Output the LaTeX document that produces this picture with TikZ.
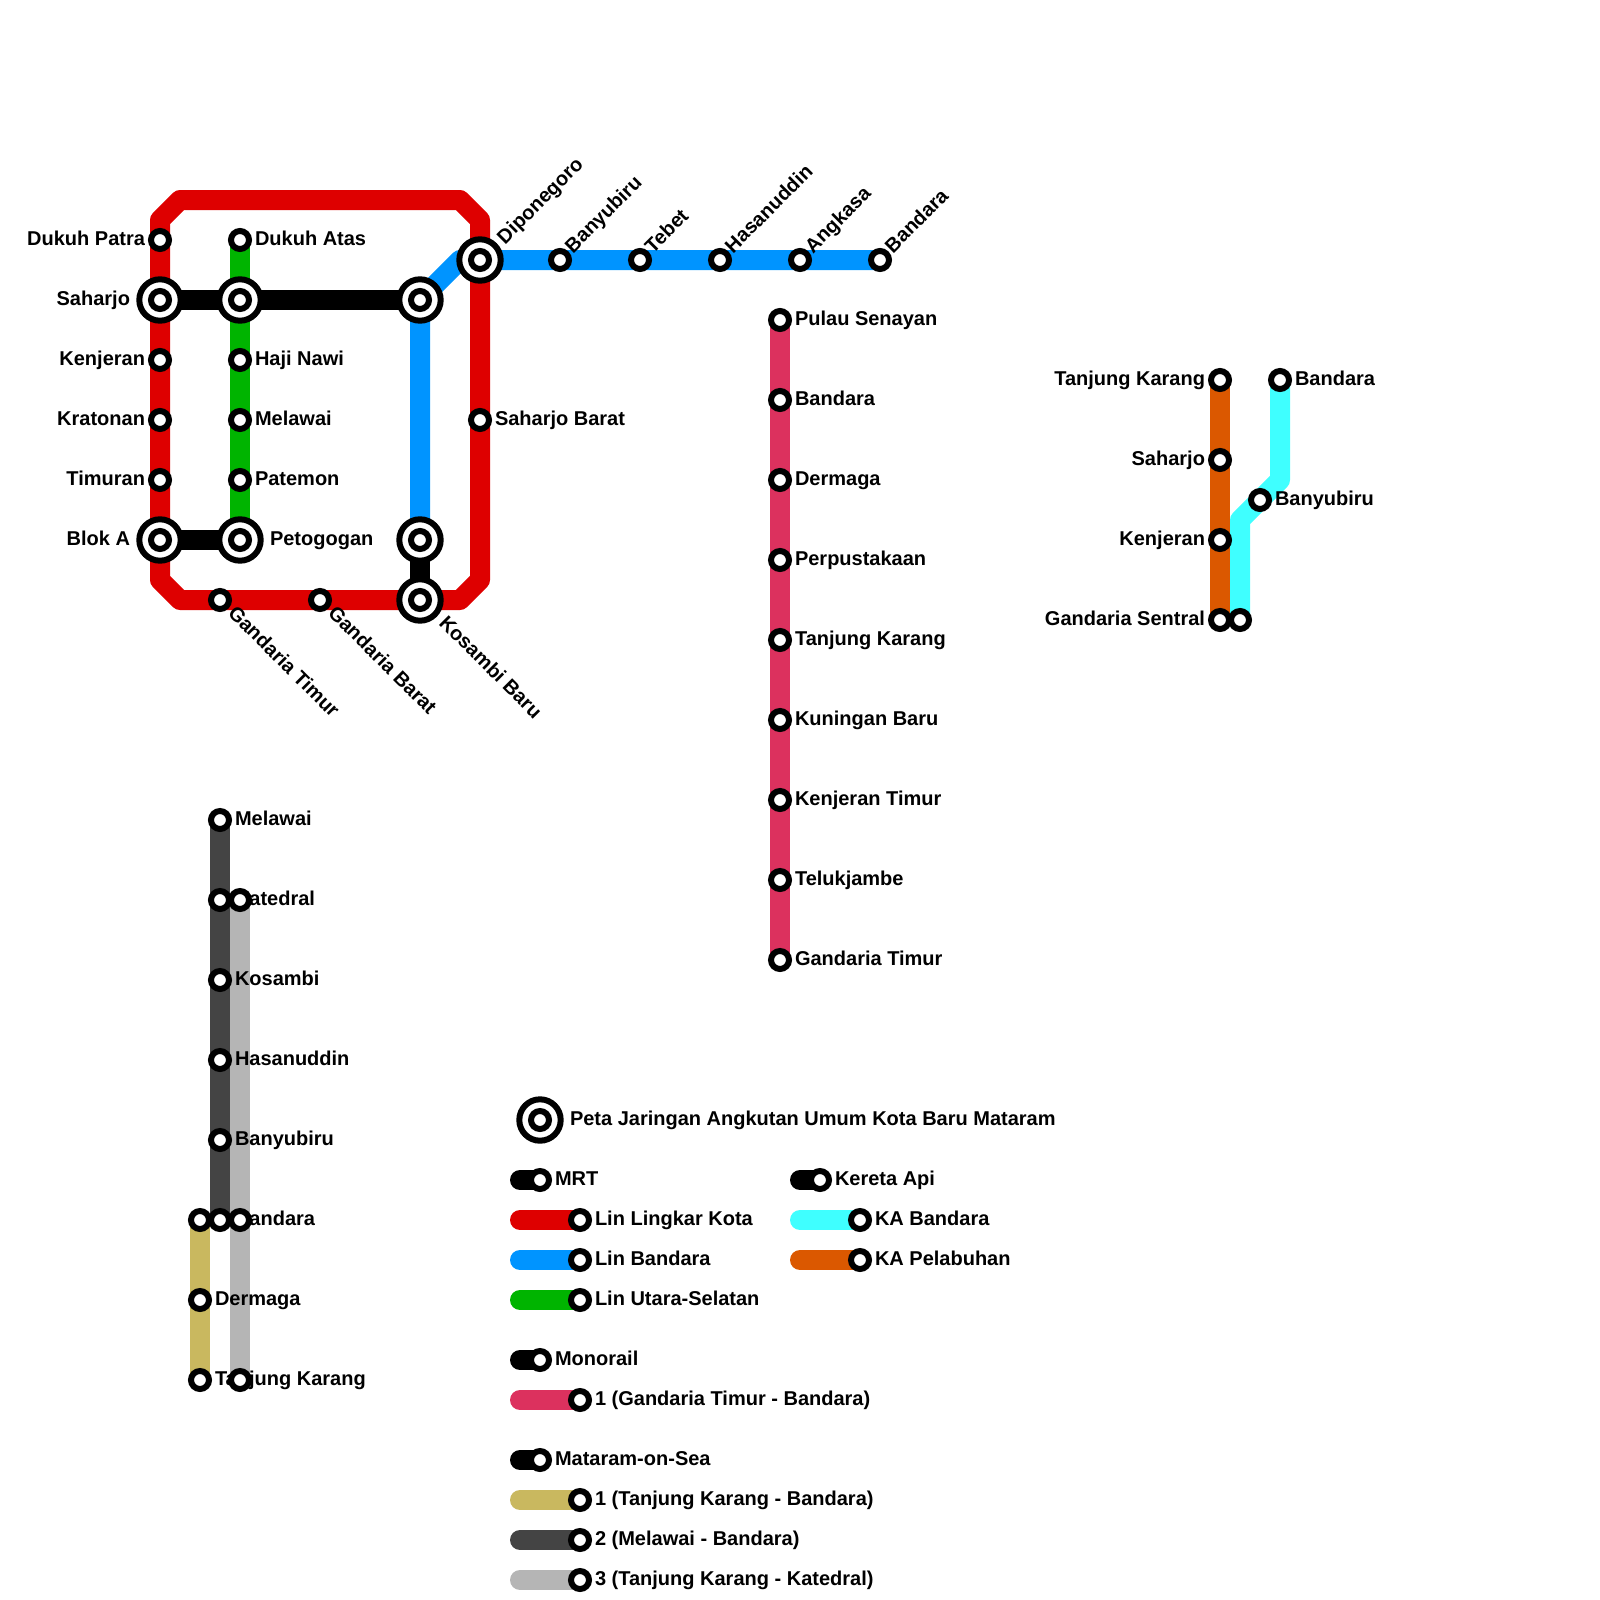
\documentclass[tikz,border=0pt]{standalone}
\usepackage{fontspec}
\setmainfont{Liberation Sans}[BoldFont={Liberation Sans Bold}]
\pgfdeclarelayer{lines}
\pgfdeclarelayer{labels}
\pgfsetlayers{lines,labels,main}
\definecolor{cred}{HTML}{DE0000}
\definecolor{cblue}{HTML}{0094FF}
\definecolor{cgreen}{HTML}{00B400}
\definecolor{cpink}{HTML}{DC315E}
\definecolor{colive}{HTML}{C9B85F}
\definecolor{cdark}{HTML}{444444}
\definecolor{clight}{HTML}{B5B5B5}
\definecolor{corange}{HTML}{DB5800}
\definecolor{ccyan}{HTML}{3FFFFF}
\tikzset{
  stn/.style={circle,draw=black,fill=white,line width=6pt,minimum size=18pt,inner sep=0pt,outer sep=0pt},
  ring/.style={circle,draw=black,fill=white,line width=6pt,minimum size=41.4pt,inner sep=0pt,outer sep=0pt},
  metro/.style={line width=20pt,line cap=round,line join=round},
  lbl/.style={inner sep=0pt,outer sep=0pt,font=\fontsize{20}{24}\selectfont\bfseries,text=black},
  lr/.style={lbl,anchor=base west},
  ll/.style={lbl,anchor=base east},
  lu/.style={lbl,anchor=base west,rotate=45},
  ld/.style={lbl,anchor=base west,rotate=-45},
}
\newcommand{\sst}[2]{\node[stn] (#1) at (#2) {};}
\newcommand{\bst}[2]{\node[ring] (#1) at (#2) {};\node[stn] (#1i) at (#1.center) {};}
\begin{document}
\begin{tikzpicture}[x=1pt,y=-1pt]
\useasboundingbox (0,0) rectangle (1600,1600);
% --- stations
\sst{dukuhpatra}{160,240}
\bst{saharjo}{160,300}
\sst{kenjeran}{160,360}
\sst{kratonan}{160,420}
\sst{timuran}{160,480}
\bst{bloka}{160,540}
\sst{dukuhatas}{240,240}
\bst{gtwo}{240,300}
\sst{hajinawi}{240,360}
\sst{melawai}{240,420}
\sst{patemon}{240,480}
\bst{petogogan}{240,540}
\bst{bone}{420,300}
\bst{btwo}{420,540}
\bst{kosambibaru}{420,600}
\bst{diponegoro}{480,260}
\sst{saharjobarat}{480,420}
\sst{gandariatimur}{220,600}
\sst{gandariabarat}{320,600}
\sst{banyubiru}{560,260}
\sst{tebet}{640,260}
\sst{hasanuddin}{720,260}
\sst{angkasa}{800,260}
\sst{bandara}{880,260}
% monorail
\sst{mfirst}{780,320}
\sst{mb}{780,400}
\sst{mc}{780,480}
\sst{md}{780,560}
\sst{me}{780,640}
\sst{mf}{780,720}
\sst{mg}{780,800}
\sst{mh}{780,880}
\sst{mlast}{780,960}
% sea lines
\sst{da}{220,820}
\sst{db}{220,900}
\sst{dc}{220,980}
\sst{dd}{220,1060}
\sst{de}{220,1140}
\sst{df}{220,1220}
\sst{oa}{200,1220}
\sst{ob}{200,1300}
\sst{oc}{200,1380}
\sst{ga}{240,900}
\sst{gb}{240,1220}
\sst{gc}{240,1380}
% rail
\sst{ra}{1220,380}
\sst{rb}{1220,460}
\sst{rc}{1220,540}
\sst{rd}{1220,620}
\sst{ca}{1280,380}
\sst{cb}{1260,500}
\sst{cc}{1240,620}
\coordinate (cbend1) at (1280,480);
\coordinate (cbend2) at (1240,520);
% legend
\bst{legbig}{540,1120}
\sst{l1}{540,1180}
\sst{l2}{580,1220}
\sst{l3}{580,1260}
\sst{l4}{580,1300}
\sst{l5}{540,1360}
\sst{l6}{580,1400}
\sst{l7}{540,1460}
\sst{l8}{580,1500}
\sst{l9}{580,1540}
\sst{l10}{580,1580}
\sst{r1}{820,1180}
\sst{r2}{860,1220}
\sst{r3}{860,1260}
\foreach \n/\yy in {a1/1180,a2/1220,a3/1260,a4/1300,a5/1360,a6/1400,a7/1460,a8/1500,a9/1540,a10/1580}{\coordinate (\n) at (520,\yy);}
\foreach \n/\yy in {b1/1180,b2/1220,b3/1260}{\coordinate (\n) at (800,\yy);}
\coordinate (rc1) at (160,220);
\coordinate (rc2) at (180,200);
\coordinate (rc3) at (460,200);
\coordinate (rc4) at (480,220);
\coordinate (rc5) at (480,580);
\coordinate (rc6) at (460,600);
\coordinate (rc7) at (180,600);
\coordinate (rc8) at (160,580);
\coordinate (bbend) at (460,260);
% --- lines
\begin{pgfonlayer}{lines}
\draw[metro,cred] (rc1) -- (rc2) -- (rc3) -- (rc4) -- (rc5) -- (rc6) -- (rc7) -- (rc8) -- cycle;
\draw[metro,cgreen] (dukuhatas.center) -- (petogogan.center);
\draw[metro,cblue] (btwo.center) -- (bone.center) -- (bbend) -- (bandara.center);
\draw[metro,black] (saharjo.center) -- (bone.center);
\draw[metro,black] (bloka.center) -- (petogogan.center);
\draw[metro,black] (btwo.center) -- (kosambibaru.center);
\draw[metro,cpink] (mfirst.center) -- (mlast.center);
\draw[metro,cdark] (da.center) -- (df.center);
\draw[metro,clight] (ga.center) -- (gc.center);
\draw[metro,colive] (oa.center) -- (oc.center);
\draw[metro,corange] (ra.center) -- (rd.center);
\draw[metro,ccyan] (ca.center) -- (cbend1) -- (cbend2) -- (cc.center);
\draw[metro,black] (a1) -- (l1.center);
\draw[metro,cred] (a2) -- (l2.center);
\draw[metro,cblue] (a3) -- (l3.center);
\draw[metro,cgreen] (a4) -- (l4.center);
\draw[metro,black] (a5) -- (l5.center);
\draw[metro,cpink] (a6) -- (l6.center);
\draw[metro,black] (a7) -- (l7.center);
\draw[metro,colive] (a8) -- (l8.center);
\draw[metro,cdark] (a9) -- (l9.center);
\draw[metro,clight] (a10) -- (l10.center);
\draw[metro,black] (b1) -- (r1.center);
\draw[metro,ccyan] (b2) -- (r2.center);
\draw[metro,corange] (b3) -- (r3.center);
\end{pgfonlayer}
% --- labels
\begin{pgfonlayer}{labels}
\node[ll] (t1) at (145,245) {Dukuh Patra};
\node[ll] (t2) at (130,305) {Saharjo};
\node[ll] (t3) at (145,365) {Kenjeran};
\node[ll] (t4) at (145,425) {Kratonan};
\node[ll] (t5) at (145,485) {Timuran};
\node[ll] (t6) at (130,545) {Blok A};
\node[lr] (t7) at (255,245) {Dukuh Atas};
\node[lr] (t8) at (255,365) {Haji Nawi};
\node[lr] (t9) at (255,425) {Melawai};
\node[lr] (t10) at (255,485) {Patemon};
\node[lr] (t11) at (270,545) {Petogogan};
\node[lr] (t12) at (495,425) {Saharjo Barat};
\node[lu] (t13) at (505,245) {Diponegoro};
\node[lu] (t14) at (573,254) {Banyubiru};
\node[lu] (t15) at (653,254) {Tebet};
\node[lu] (t16) at (733,254) {Hasanuddin};
\node[lu] (t17) at (813,254) {Angkasa};
\node[lu] (t18) at (893,254) {Bandara};
\node[ld] (t19) at (227,614) {Gandaria Timur};
\node[ld] (t20) at (327,614) {Gandaria Barat};
\node[ld] (t21) at (438,624) {Kosambi Baru};
\foreach \n/\yy/\tx in {a/320/Pulau Senayan,b/400/Bandara,c/480/Dermaga,d/560/Perpustakaan,e/640/Tanjung Karang,f/720/Kuningan Baru,g/800/Kenjeran Timur,h/880/Telukjambe,i/960/Gandaria Timur}{\node[lr] (tm\n) at (795,\yy+5) {\tx};}
\foreach \n/\yy/\tx in {a/820/Melawai,b/900/Katedral,c/980/Kosambi,d/1060/Hasanuddin,e/1140/Banyubiru,f/1220/Bandara}{\node[lr] (td\n) at (235,\yy+5) {\tx};}
\node[lr] (to1) at (215,1305) {Dermaga};
\node[lr] (to2) at (215,1385) {Tanjung Karang};
\node[ll] (tr1) at (1205,385) {Tanjung Karang};
\node[ll] (tr2) at (1205,465) {Saharjo};
\node[ll] (tr3) at (1205,545) {Kenjeran};
\node[ll] (tr4) at (1205,625) {Gandaria Sentral};
\node[lr] (tc1) at (1295,385) {Bandara};
\node[lr] (tc2) at (1275,505) {Banyubiru};
\node[lr] (tl0) at (570,1125) {Peta Jaringan Angkutan Umum Kota Baru Mataram};
\node[lr] (tl1) at (555,1185) {MRT};
\node[lr] (tl2) at (595,1225) {Lin Lingkar Kota};
\node[lr] (tl3) at (595,1265) {Lin Bandara};
\node[lr] (tl4) at (595,1305) {Lin Utara-Selatan};
\node[lr] (tl5) at (555,1365) {Monorail};
\node[lr] (tl6) at (595,1405) {1 (Gandaria Timur - Bandara)};
\node[lr] (tl7) at (555,1465) {Mataram-on-Sea};
\node[lr] (tl8) at (595,1505) {1 (Tanjung Karang - Bandara)};
\node[lr] (tl9) at (595,1545) {2 (Melawai - Bandara)};
\node[lr] (tl10) at (595,1585) {3 (Tanjung Karang - Katedral)};
\node[lr] (tr5) at (835,1185) {Kereta Api};
\node[lr] (tr6) at (875,1225) {KA Bandara};
\node[lr] (tr7) at (875,1265) {KA Pelabuhan};
\end{pgfonlayer}
\end{tikzpicture}
\end{document}
